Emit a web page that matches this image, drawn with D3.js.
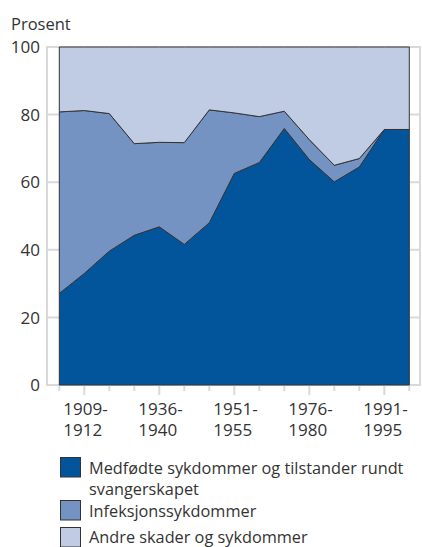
<!DOCTYPE html>
<html>
<head>
<meta charset="utf-8">
<script src="https://cdn.jsdelivr.net/npm/d3@7"></script>
<style>
  html, body { margin: 0; padding: 0; background: #fff; }
  svg { display: block; font-family: "Open Sans", sans-serif; }
</style>
</head>
<body>
<svg id="chart" width="422" height="547"></svg>
<script>
// ---- data (percent of infant deaths by cause) ----
const periods = ["1901-1905","1909-1912","1916-1920","1926-1930","1936-1940","1941-1945","1946-1950",
                 "1951-1955","1961-1965","1966-1970","1976-1980","1981-1985","1986-1990","1991-1995","1996-1999"];
const medfodte  = [27.1, 33.0, 39.6, 44.3, 46.8, 41.6, 48.0, 62.6, 65.8, 75.9, 66.7, 60.1, 64.5, 75.6, 75.6];
const infeksjon = [53.7, 48.2, 40.7, 27.1, 25.0, 30.1, 33.4, 17.9, 13.6,  5.1,  5.9,  4.9,  2.5,  0.0,  0.0];
const andre     = [19.2, 18.8, 19.7, 28.6, 28.2, 28.3, 18.6, 19.5, 20.6, 19.0, 27.4, 35.0, 33.0, 24.4, 24.4];
const seriesNames = ["Medfødte sykdommer og tilstander rundt svangerskapet", "Infeksjonssykdommer", "Andre skader og sykdommer"];
const labelPeriods = ["1909-1912","1936-1940","1951-1955","1976-1980","1991-1995"];
const yTicks = [0, 20, 40, 60, 80, 100];

const colors = ["#02559a", "#7493c3", "#c0cce3"];
const textColor = "#333333";
const gridColor = "#d9d9d9";

const svg = d3.select("#chart");

const x = d3.scalePoint().domain(periods).range([59.3, 409.3]);
const y = d3.scaleLinear().domain([0, 100]).range([385, 47]);

const table = periods.map((p, i) => ({ period: p, m: medfodte[i], i2: infeksjon[i], a: andre[i] }));
const stack = d3.stack().keys(["m", "i2", "a"]);
const stacked = stack(table);

// frame & gridlines
const frameL = 47, frameR = 420;
svg.append("g").selectAll("line").data(yTicks.filter(d => d > 0)).join("line")
  .attr("x1", frameL).attr("x2", frameR)
  .attr("y1", d => y(d)).attr("y2", d => y(d))
  .attr("stroke", gridColor).attr("stroke-width", 2);
svg.append("line").attr("x1", frameL).attr("x2", frameL).attr("y1", y(100) - 1).attr("y2", y(0) + 1)
  .attr("stroke", gridColor).attr("stroke-width", 2);
svg.append("line").attr("x1", frameR).attr("x2", frameR).attr("y1", y(100) - 1).attr("y2", y(0) + 1)
  .attr("stroke", gridColor).attr("stroke-width", 2);
svg.append("line").attr("x1", frameL - 1).attr("x2", frameR + 1).attr("y1", y(0)).attr("y2", y(0))
  .attr("stroke", gridColor).attr("stroke-width", 2);

// x ticks
svg.append("g").selectAll("line").data(periods).join("line")
  .attr("x1", d => x(d)).attr("x2", d => x(d))
  .attr("y1", y(0)).attr("y2", d => labelPeriods.includes(d) ? y(0) + 10 : y(0) + 6)
  .attr("stroke", gridColor).attr("stroke-width", 2);

// areas
const area = d3.area()
  .x(d => x(d.data.period))
  .y0(d => y(d[0]))
  .y1(d => y(d[1]));

svg.append("g").selectAll("path").data(stacked).join("path")
  .attr("d", area)
  .attr("fill", (d, i) => colors[i])
  .attr("stroke", "#333333")
  .attr("stroke-width", 1)
  .attr("stroke-linejoin", "round");

// y labels
svg.append("g").selectAll("text").data(yTicks).join("text")
  .attr("x", 40).attr("y", d => y(d)).attr("dy", "0.36em")
  .attr("text-anchor", "end").attr("font-size", 17).attr("fill", textColor)
  .text(d => d);

svg.append("text").attr("x", 11).attr("y", 30).attr("font-size", 16.5).attr("fill", textColor).text("Prosent");

// x labels
const xl = svg.append("g").selectAll("text").data(labelPeriods).join("text")
  .attr("font-size", 17).attr("fill", textColor).attr("text-anchor", "start");
xl.append("tspan").attr("x", d => x(d) - 21).attr("y", 415).text(d => d.split("-")[0] + "-");
xl.append("tspan").attr("x", d => x(d) - 21).attr("y", 436).text(d => d.split("-")[1]);

// legend
const legendItems = [
  { lines: ["Medfødte sykdommer og tilstander rundt", "svangerskapet"], c: colors[0], boxY: 457, textY: [474, 495] },
  { lines: ["Infeksjonssykdommer"], c: colors[1], boxY: 500, textY: [517] },
  { lines: ["Andre skader og sykdommer"], c: colors[2], boxY: 527, textY: [543] }
];
const lg = svg.append("g").selectAll("g").data(legendItems).join("g");
lg.append("rect").attr("x", 60.5).attr("y", d => d.boxY + 0.5).attr("width", 20).attr("height", 19.5)
  .attr("fill", d => d.c).attr("stroke", "#333333").attr("stroke-width", 1);
lg.each(function(d) {
  const t = d3.select(this).append("text").attr("font-size", 16.3).attr("fill", textColor);
  d.lines.forEach((ln, k) => {
    t.append("tspan").attr("x", 89).attr("y", d.textY[k]).text(ln);
  });
});
</script>
</body>
</html>
